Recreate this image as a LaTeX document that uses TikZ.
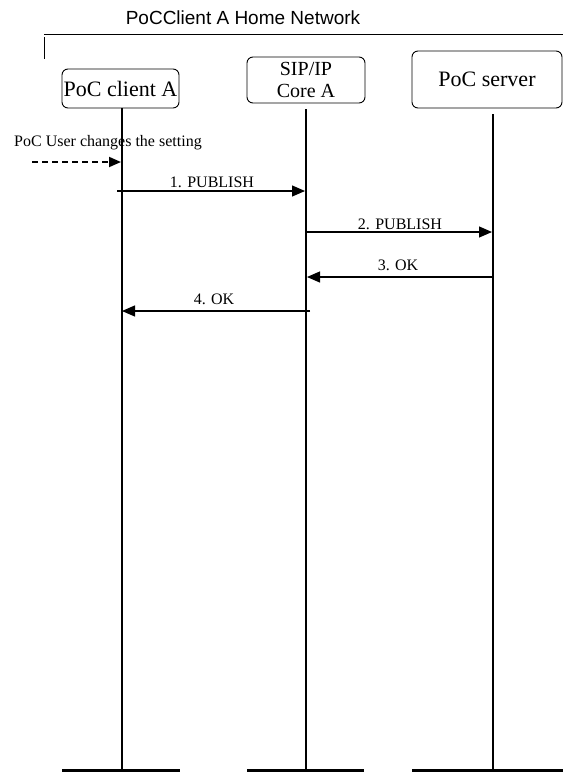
\documentclass[tikz,border=0pt]{standalone}
\usepackage{fontspec}
\setmainfont{Liberation Serif}
\newfontfamily\titlefont{Liberation Sans}
\usetikzlibrary{arrows.meta}

\begin{document}
\begin{tikzpicture}[x=1pt,y=-1pt,
  entity/.style={draw,rounded corners=6pt,line width=0.9pt,align=center,inner sep=0pt},
  lifeline/.style={line width=1.2pt},
  msg/.style={line width=1.2pt,-{Triangle[length=13pt,width=11pt]}},
  msglabel/.style={font=\fontsize{16}{18}\selectfont},
  foot/.style={line width=3pt}]
\useasboundingbox (0,0) rectangle (563,772);
% home network frame
\node[font=\titlefont\fontsize{19}{22}\selectfont] (net) at (243,18) {PoCClient A Home Network};
\coordinate (frame-l) at (44,34);
\coordinate (frame-r) at (563,34);
\coordinate (tick-t) at (44,37);
\coordinate (tick-b) at (44,59);
\draw[line width=0.9pt] (frame-l) -- (frame-r);
\draw[line width=0.9pt] (tick-t) -- (tick-b);
% entities
\node[entity,minimum width=117pt,minimum height=39pt,font=\fontsize{22}{24}\selectfont] (clientA) at (120.5,88.5) {PoC client A};
\node[entity,minimum width=118pt,minimum height=46pt,font=\fontsize{20}{22}\selectfont] (sipA) at (306,80) {SIP/IP\\Core A};
\node[entity,minimum width=150pt,minimum height=57pt,font=\fontsize{22}{24}\selectfont] (server) at (487,79.5) {PoC server};
% lifelines
\coordinate (clientA-t) at (122,108);
\coordinate (clientA-b) at (122,770);
\coordinate (sipA-t) at (306,109);
\coordinate (sipA-b) at (306,770);
\coordinate (server-t) at (493,114);
\coordinate (server-b) at (493,770);
\draw[lifeline] (clientA-t) -- (clientA-b);
\draw[lifeline] (sipA-t) -- (sipA-b);
\draw[lifeline] (server-t) -- (server-b);
% feet
\coordinate (clientA-fl) at (62,770);
\coordinate (clientA-fr) at (180,770);
\coordinate (sipA-fl) at (247,770);
\coordinate (sipA-fr) at (364,770);
\coordinate (server-fl) at (412,770);
\coordinate (server-fr) at (563,770);
\draw[foot] (clientA-fl) -- (clientA-fr);
\draw[foot] (sipA-fl) -- (sipA-fr);
\draw[foot] (server-fl) -- (server-fr);
% trigger
\node[msglabel] (trigger) at (108,143) {PoC User changes the setting};
\coordinate (m0-s) at (32,162);
\coordinate (m0-e) at (121,162);
\draw[line width=1.8pt,dash pattern=on 6pt off 4pt,-{Triangle[length=12pt,width=10pt]}] (m0-s) -- (m0-e);
% messages
\coordinate (m1-s) at (117,191);
\coordinate (m1-e) at (305,191);
\draw[msg] (m1-s) -- (m1-e);
\node[msglabel] (m1) at (212,182) {1. PUBLISH};
\coordinate (m2-s) at (305,232);
\coordinate (m2-e) at (492,232);
\draw[msg] (m2-s) -- (m2-e);
\node[msglabel] (m2) at (400,224) {2. PUBLISH};
\coordinate (m3-s) at (492,277);
\coordinate (m3-e) at (307,277);
\draw[msg] (m3-s) -- (m3-e);
\node[msglabel] (m3) at (398,265) {3. OK};
\coordinate (m4-s) at (310,311);
\coordinate (m4-e) at (122,311);
\draw[msg] (m4-s) -- (m4-e);
\node[msglabel] (m4) at (214,299) {4. OK};
\end{tikzpicture}
\end{document}
